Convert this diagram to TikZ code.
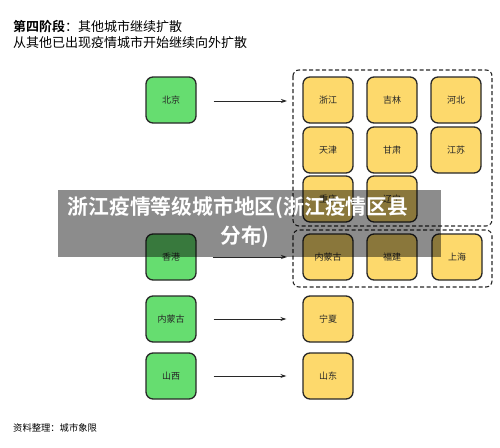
\documentclass[tikz,border=0pt]{standalone}
\usepackage{fontspec}
\setmainfont{Noto Sans CJK SC}
\newfontfamily\cjkbold{Noto Sans CJK SC Bold}
\usetikzlibrary{arrows.meta}
\definecolor{gfill}{RGB}{102,221,112}
\definecolor{yfill}{RGB}{253,217,108}
\definecolor{edgec}{RGB}{40,40,40}
\tikzset{
  cell/.style={draw=edgec, line width=1.3pt, rounded corners=7pt, minimum width=50pt, minimum height=46pt, inner sep=0pt, font=\fontsize{9}{9}\selectfont, text=black!85},
  gbox/.style={cell, fill=gfill},
  ybox/.style={cell, fill=yfill},
  grp/.style={draw=edgec, line width=1.1pt, dashed, dash pattern=on 4pt off 2.5pt, rounded corners=6pt},
  link/.style={draw=edgec, line width=1pt, -{Stealth[length=6pt,width=4pt]}}
}
\begin{document}
\begin{tikzpicture}[x=1pt,y=-1pt]
\useasboundingbox (0,0) rectangle (500,447);
\fill[white] (0,0) rectangle (500,447);
% title
\node[anchor=west, inner sep=0pt, font=\fontsize{13}{13}\selectfont] (t1) at (13,27) {{\cjkbold 第四阶段}：其他城市继续扩散};
\node[anchor=west, inner sep=0pt, font=\fontsize{13}{13}\selectfont] (t2) at (13,43) {从其他已出现疫情城市开始继续向外扩散};
% group boxes
\draw[grp] (293,70) rectangle (492,226);
\draw[grp] (293,230) rectangle (492,287);
% yellow cells
\node[ybox] (zj) at (328,100) {浙江};
\node[ybox] (jl) at (392,100) {吉林};
\node[ybox] (hb) at (456,100) {河北};
\node[ybox] (tj) at (328,150) {天津};
\node[ybox] (gs) at (392,150) {甘肃};
\node[ybox] (js) at (456,150) {江苏};
\node[ybox] (cq) at (328,199) {重庆};
\node[ybox] (ln) at (392,199) {辽宁};
\node[ybox] (nm2) at (328,257) {内蒙古};
\node[ybox] (fj) at (392,257) {福建};
\node[ybox] (sh) at (457,257) {上海};
\node[ybox] (nx) at (328,319) {宁夏};
\node[ybox] (sd) at (328,376) {山东};
% green cells
\node[gbox] (bj) at (171,100) {北京};
\node[gbox] (hk) at (171,257) {香港};
\node[gbox] (nm) at (171,319) {内蒙古};
\node[gbox] (sx) at (171,376) {山西};
% arrows
\coordinate (a1) at (287,101);
\coordinate (a2) at (287,257);
\draw[link] ([xshift=17pt]bj.east |- a1) -- (a1);
\draw[link] ([xshift=16pt]hk.east |- a2) -- (a2);
\draw[link] ([xshift=17pt]nm.east) -- ([xshift=-16pt]nx.west);
\draw[link] ([xshift=17pt]sx.east) -- ([xshift=-16pt]sd.west);
% source
\node[anchor=west, inner sep=0pt, font=\fontsize{9.3}{9.3}\selectfont] (src) at (13,428) {资料整理：城市象限};
% overlay banner
\fill[black, fill opacity=0.45] (58,190) rectangle (441,257);
\node[inner sep=0pt, text=white, font=\fontsize{20.8}{20.8}\selectfont\cjkbold] (ov1) at (238,208) {浙江疫情等级城市地区(浙江疫情区县};
\node[inner sep=0pt, text=white, font=\fontsize{20.8}{20.8}\selectfont\cjkbold] (ov2) at (245,237) {分布)};
\end{tikzpicture}
\end{document}
